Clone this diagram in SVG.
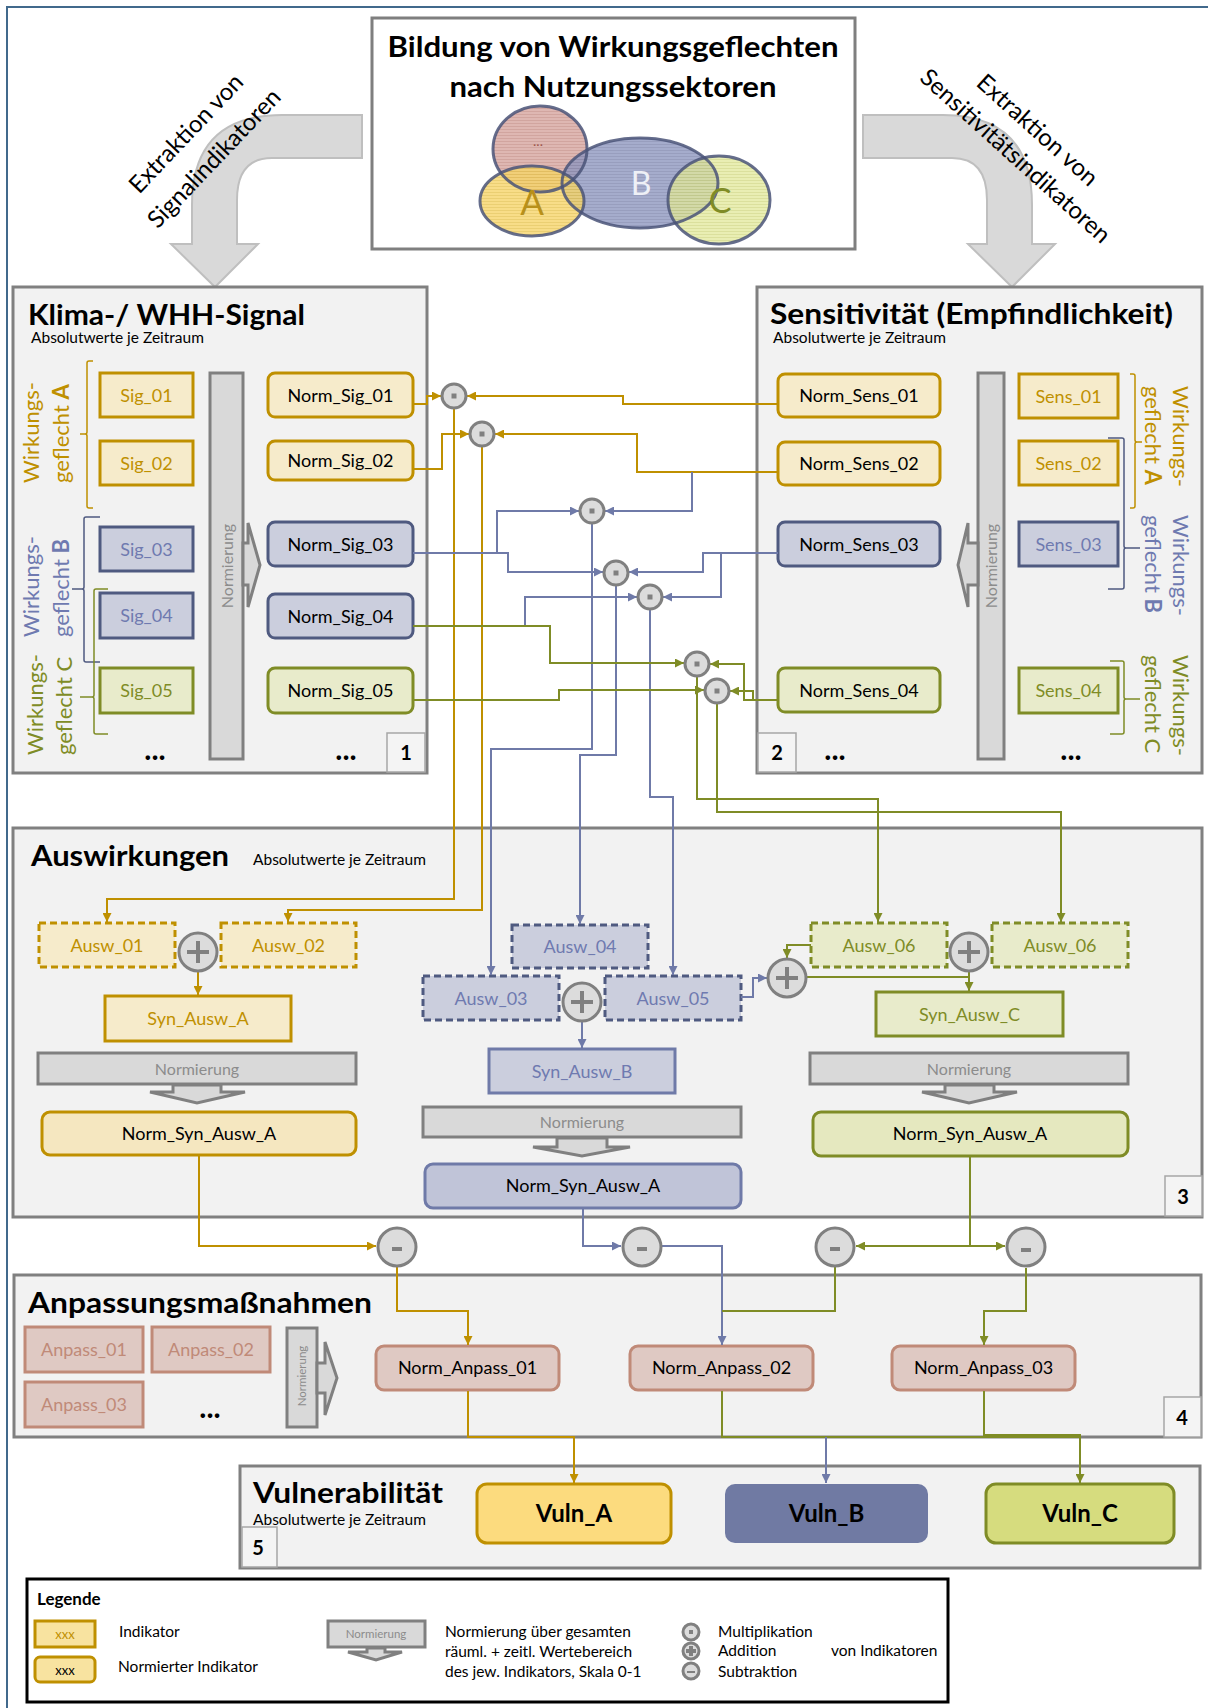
<svg xmlns="http://www.w3.org/2000/svg" width="1208" height="1708" viewBox="0 0 1208 1708">
<style>
text{font-family:Lato,"Open Sans","Liberation Sans",sans-serif}
.sec{fill:#f2f2f2;stroke:#808080;stroke-width:3}
.ttl{font-weight:bold;font-size:29px;fill:#000}
.sub{font-size:15.5px;fill:#000}
.lbl{font-size:18px;text-anchor:middle}
.gI{fill:#f6ebcb;stroke:#bf9000;stroke-width:3}
.bI{fill:#cbcedd;stroke:#4f5a80;stroke-width:3}
.oI{fill:#e8ebcb;stroke:#7f8c26;stroke-width:3}
.gT{fill:#bf9000}.bT{fill:#6f7ab0}.oT{fill:#7f8c26}.kT{fill:#000}
.dash{stroke-dasharray:7 4}
.bN{fill:#cbcedd;stroke:#4f5a80;stroke-width:3}
.nb{fill:#d9d9d9;stroke:#808080;stroke-width:3}
.nt{fill:#8c8c8c;font-size:16px;text-anchor:middle}
.num{fill:#f4f4f4;stroke:#a6a6a6;stroke-width:1.5}
.numt{font-weight:bold;font-size:20px;text-anchor:middle;fill:#000}
.dots{font-weight:bold;font-size:30px;text-anchor:middle;fill:#000}
.op{fill:#dcdcdc;stroke:#808080;stroke-width:3}
.opm{fill:#808080}
.ops{stroke:#808080;stroke-width:4;fill:none}
.cg{fill:none;stroke:#bf9000;stroke-width:2}
.cb{fill:none;stroke:#6f7aa8;stroke-width:2}
.co{fill:none;stroke:#7f8c26;stroke-width:2}
.ag{marker-end:url(#mg)}.ab{marker-end:url(#mb)}.ao{marker-end:url(#mo)}
.ap{fill:#dfc9c3;stroke:#c08a78;stroke-width:3}
.apT{fill:#c08a78}
.wk{font-size:22px}
.leg{font-size:15.5px;fill:#000}
.ext{font-size:24px;fill:#000;text-anchor:middle}
</style>
<defs>
<marker id="mg" viewBox="0 0 10 10" refX="10" refY="5" markerWidth="9" markerHeight="9" markerUnits="userSpaceOnUse" orient="auto"><path d="M0,0 L10,5 L0,10 z" fill="#bf9000"/></marker>
<marker id="mb" viewBox="0 0 10 10" refX="10" refY="5" markerWidth="9" markerHeight="9" markerUnits="userSpaceOnUse" orient="auto"><path d="M0,0 L10,5 L0,10 z" fill="#6f7aa8"/></marker>
<marker id="mo" viewBox="0 0 10 10" refX="10" refY="5" markerWidth="9" markerHeight="9" markerUnits="userSpaceOnUse" orient="auto"><path d="M0,0 L10,5 L0,10 z" fill="#7f8c26"/></marker>
<pattern id="pR" width="4" height="3" patternUnits="userSpaceOnUse"><rect width="4" height="3" fill="#d8aaa4"/><rect width="4" height="1" fill="#c9958e"/></pattern>
<pattern id="pA" width="4" height="3" patternUnits="userSpaceOnUse"><rect width="4" height="3" fill="#f6d56a"/><rect width="4" height="1" fill="#e6c350"/></pattern>
<pattern id="pB" width="4" height="3" patternUnits="userSpaceOnUse"><rect width="4" height="3" fill="#8f97bf"/><rect width="4" height="1" fill="#7e86ae"/></pattern>
<pattern id="pC" width="4" height="3" patternUnits="userSpaceOnUse"><rect width="4" height="3" fill="#e2e89a"/><rect width="4" height="1" fill="#cfd67c"/></pattern>
</defs>

<rect x="7" y="7" width="1215" height="1715" fill="#fff" stroke="#41698c" stroke-width="2"/>

<!-- top title box with venn -->
<g id="sektoren">
<rect x="372" y="18" width="483" height="231" fill="#fff" stroke="#7f7f7f" stroke-width="3"/>
<text x="613" y="57" class="ttl" text-anchor="middle" textLength="451" lengthAdjust="spacingAndGlyphs">Bildung von Wirkungsgeflechten</text>
<text x="613" y="97" class="ttl" text-anchor="middle" textLength="327" lengthAdjust="spacingAndGlyphs">nach Nutzungssektoren</text>
<ellipse cx="540" cy="149" rx="47" ry="43" fill="url(#pR)" fill-opacity="0.85"/>
<ellipse cx="640" cy="183" rx="78" ry="45" fill="url(#pB)" fill-opacity="0.8"/>
<ellipse cx="532" cy="201" rx="52" ry="35" fill="url(#pA)" fill-opacity="0.8"/>
<ellipse cx="719" cy="200" rx="51" ry="44" fill="url(#pC)" fill-opacity="0.75"/>
<g fill="none" stroke="#4a5478" stroke-width="3" stroke-opacity="0.85">
<ellipse cx="540" cy="149" rx="47" ry="43"/>
<ellipse cx="640" cy="183" rx="78" ry="45"/>
<ellipse cx="532" cy="201" rx="52" ry="35"/>
<ellipse cx="719" cy="200" rx="51" ry="44"/>
</g>
<text x="538" y="146" font-size="14" fill="#a0584e" text-anchor="middle">...</text>
<text x="532" y="215" font-size="35" fill="#b8901a" text-anchor="middle">A</text>
<text x="641" y="195" font-size="32" fill="#eef0f6" text-anchor="middle">B</text>
<text x="720" y="213" font-size="34" fill="#7f8c26" text-anchor="middle">C</text>
</g>

<!-- curved arrows -->
<g id="extraktion-signal">
<path d="M362,115 L282,115 Q192,115 192,205 L192,244 L171,244 L215,287 L258,244 L237,244 L237,200 Q237,158 272,158 L362,158 Z" fill="#d9d9d9" stroke="#bfbfbf" stroke-width="2"/>
<text class="ext" transform="translate(192,139) rotate(-46.5)">Extraktion von</text>
<text class="ext" transform="translate(220,164) rotate(-46.5)">Signalindikatoren</text>
</g>
<g id="extraktion-sens">
<path d="M863,115 L943,115 Q1032,115 1032,205 L1032,244 L1055,244 L1012,287 L968,244 L987,244 L987,200 Q987,158 952,158 L863,158 Z" fill="#d9d9d9" stroke="#bfbfbf" stroke-width="2"/>
<text class="ext" transform="translate(1032,136) rotate(42)">Extraktion von</text>
<text class="ext" transform="translate(1010,162) rotate(42)">Sensitivitätsindikatoren</text>
</g>

<!-- section 1 -->
<g id="klima">
<rect class="sec" x="13" y="287" width="414" height="486"/>
<text x="28" y="325" class="ttl" textLength="277" lengthAdjust="spacingAndGlyphs">Klima-/ WHH-Signal</text>
<text x="31" y="343" class="sub">Absolutwerte je Zeitraum</text>
<g class="wk">
<text class="gT" transform="translate(39,483) rotate(-90)">Wirkungs-</text>
<text class="gT" transform="translate(69,483) rotate(-90)">geflecht <tspan font-weight="bold">A</tspan></text>
<text class="bT" transform="translate(39,637) rotate(-90)">Wirkungs-</text>
<text class="bT" transform="translate(69,637) rotate(-90)">geflecht <tspan font-weight="bold">B</tspan></text>
<text class="oT" transform="translate(43,755) rotate(-90)">Wirkungs-</text>
<text class="oT" transform="translate(72,755) rotate(-90)">geflecht C</text>
</g>
<path d="M93,361 H89 Q87,361 87,363 V432 Q87,434 85,434 H80 M85,434 Q87,434 87,436 V506 Q87,508 89,508 H93" fill="none" stroke="#bf9000" stroke-width="1.5"/>
<path d="M100,517 H86 Q84,517 84,519 V587 Q84,589 82,589 H72 M82,589 Q84,589 84,591 V660 Q84,662 86,662 H100" fill="none" stroke="#4f5a80" stroke-width="1.5"/>
<path d="M108,589 H96 Q94,589 94,591 V695 Q94,697 92,697 H80 M92,697 Q94,697 94,699 V732 Q94,734 96,734 H108" fill="none" stroke="#7f8c26" stroke-width="1.5"/>
<g id="sig01"><rect class="gI" x="100" y="373" width="93" height="44"/><text class="lbl gT" x="146.5" y="402">Sig_01</text></g>
<g id="sig02"><rect class="gI" x="100" y="441" width="93" height="44"/><text class="lbl gT" x="146.5" y="470">Sig_02</text></g>
<g id="sig03"><rect class="bI" x="100" y="527" width="93" height="44"/><text class="lbl bT" x="146.5" y="556">Sig_03</text></g>
<g id="sig04"><rect class="bI" x="100" y="593" width="93" height="45"/><text class="lbl bT" x="146.5" y="622">Sig_04</text></g>
<g id="sig05"><rect class="oI" x="100" y="668" width="93" height="45"/><text class="lbl oT" x="146.5" y="697">Sig_05</text></g>
<g id="norm1"><rect class="nb" x="210" y="373" width="33" height="386"/>
<text class="nt" transform="translate(233,566) rotate(-90)">Normierung</text>
<path class="nb" d="M243,543 H248 V523 L260,565 L248,607 V585 H243 Z"/></g>
<g id="nsig01"><rect class="gI" x="268" y="373" width="145" height="44" rx="7"/><text class="lbl kT" x="340.5" y="402">Norm_Sig_01</text></g>
<g id="nsig02"><rect class="gI" x="268" y="441" width="145" height="39" rx="7"/><text class="lbl kT" x="340.5" y="467">Norm_Sig_02</text></g>
<g id="nsig03"><rect class="bN" x="268" y="522" width="145" height="44" rx="7"/><text class="lbl kT" x="340.5" y="551">Norm_Sig_03</text></g>
<g id="nsig04"><rect class="bN" x="268" y="594" width="145" height="44" rx="7"/><text class="lbl kT" x="340.5" y="623">Norm_Sig_04</text></g>
<g id="nsig05"><rect class="oI" x="268" y="668" width="145" height="45" rx="7"/><text class="lbl kT" x="340.5" y="697">Norm_Sig_05</text></g>
<text class="dots" x="155" y="760">...</text>
<text class="dots" x="346" y="760">...</text>
<rect class="num" x="387" y="733" width="38" height="39"/><text class="numt" x="406" y="760">1</text>
</g>

<!-- section 2 -->
<g id="sensitivitaet">
<rect class="sec" x="757" y="287" width="445" height="486"/>
<text x="770" y="324" class="ttl" textLength="403" lengthAdjust="spacingAndGlyphs">Sensitivität (Empfindlichkeit)</text>
<text x="773" y="343" class="sub">Absolutwerte je Zeitraum</text>
<g id="nsens01"><rect class="gI" x="778" y="374" width="162" height="43" rx="7"/><text class="lbl kT" x="859" y="402">Norm_Sens_01</text></g>
<g id="nsens02"><rect class="gI" x="778" y="442" width="162" height="43" rx="7"/><text class="lbl kT" x="859" y="470">Norm_Sens_02</text></g>
<g id="nsens03"><rect class="bN" x="778" y="522" width="162" height="44" rx="7"/><text class="lbl kT" x="859" y="551">Norm_Sens_03</text></g>
<g id="nsens04"><rect class="oI" x="778" y="668" width="162" height="44" rx="7"/><text class="lbl kT" x="859" y="697">Norm_Sens_04</text></g>
<g id="norm2"><rect class="nb" x="978" y="373" width="26" height="386"/>
<text class="nt" transform="translate(997,566) rotate(-90)">Normierung</text>
<path class="nb" d="M978,543 H968 V523 L958,565 L968,607 V585 H978 Z"/></g>
<g id="sens01"><rect class="gI" x="1019" y="374" width="99" height="44"/><text class="lbl gT" x="1068.5" y="403">Sens_01</text></g>
<g id="sens02"><rect class="gI" x="1019" y="441" width="99" height="44"/><text class="lbl gT" x="1068.5" y="470">Sens_02</text></g>
<g id="sens03"><rect class="bI" x="1019" y="522" width="99" height="44"/><text class="lbl bT" x="1068.5" y="551">Sens_03</text></g>
<g id="sens04"><rect class="oI" x="1019" y="668" width="99" height="45"/><text class="lbl oT" x="1068.5" y="697">Sens_04</text></g>
<path d="M1130,374 H1133 Q1135,374 1135,376 V440 Q1135,442 1137,442 H1142 M1137,442 Q1135,442 1135,444 V506 Q1135,508 1133,508 H1130" fill="none" stroke="#bf9000" stroke-width="1.5"/>
<path d="M1108,438 H1122 Q1124,438 1124,440 V546 Q1124,548 1126,548 H1140 M1126,548 Q1124,548 1124,550 V587 Q1124,589 1122,589 H1108" fill="none" stroke="#4f5a80" stroke-width="1.5"/>
<path d="M1110,661 H1122 Q1124,661 1124,663 V697 Q1124,699 1126,699 H1140 M1126,699 Q1124,699 1124,701 V732 Q1124,734 1122,734 H1110" fill="none" stroke="#7f8c26" stroke-width="1.5"/>
<g class="wk">
<text class="gT" transform="translate(1173,386) rotate(90)">Wirkungs-</text>
<text class="gT" transform="translate(1145,386) rotate(90)">geflecht <tspan font-weight="bold">A</tspan></text>
<text class="bT" transform="translate(1173,515) rotate(90)">Wirkungs-</text>
<text class="bT" transform="translate(1145,515) rotate(90)">geflecht <tspan font-weight="bold">B</tspan></text>
<text class="oT" transform="translate(1173,655) rotate(90)">Wirkungs-</text>
<text class="oT" transform="translate(1145,655) rotate(90)">geflecht C</text>
</g>
<text class="dots" x="835" y="760">...</text>
<text class="dots" x="1071" y="760">...</text>
<rect class="num" x="758" y="733" width="38" height="39"/><text class="numt" x="777" y="760">2</text>
</g>

<!-- section 3 -->
<g id="auswirkungen">
<rect class="sec" x="13" y="828" width="1189" height="389"/>
<text x="31" y="866" class="ttl" textLength="198" lengthAdjust="spacingAndGlyphs">Auswirkungen</text>
<text x="253" y="865" class="sub">Absolutwerte je Zeitraum</text>
<g id="ausw01"><rect class="gI dash" x="39" y="923" width="136" height="44"/><text class="lbl gT" x="107" y="952">Ausw_01</text></g>
<g id="ausw02"><rect class="gI dash" x="221" y="923" width="135" height="44"/><text class="lbl gT" x="288.5" y="952">Ausw_02</text></g>
<g id="synA"><rect class="gI" x="105" y="996" width="186" height="45"/><text class="lbl gT" x="198" y="1025">Syn_Ausw_A</text></g>
<g id="normA"><rect class="nb" x="38" y="1053" width="318" height="31"/><text class="nt" x="197" y="1075">Normierung</text>
<path class="nb" stroke-width="2" d="M173,1085 V1092 H150 L197,1103 L245,1092 H221 V1085 Z"/></g>
<g id="nsynA"><rect x="42" y="1112" width="314" height="43" rx="8" fill="#f5e7c0" stroke="#bf9000" stroke-width="3"/><text class="lbl kT" x="199" y="1140">Norm_Syn_Ausw_A</text></g>

<g id="ausw04"><rect class="bI dash" x="512" y="925" width="136" height="43" stroke="#6f7aa8"/><text class="lbl bT" x="580" y="953">Ausw_04</text></g>
<g id="ausw03"><rect class="bI dash" x="423" y="976" width="136" height="44" stroke="#6f7aa8"/><text class="lbl bT" x="491" y="1005">Ausw_03</text></g>
<g id="ausw05"><rect class="bI dash" x="605" y="976" width="136" height="44" stroke="#6f7aa8"/><text class="lbl bT" x="673" y="1005">Ausw_05</text></g>
<g id="synB"><rect x="489" y="1049" width="186" height="44" fill="#cbcedd" stroke="#6f7aa8" stroke-width="3"/><text class="lbl bT" x="582" y="1078">Syn_Ausw_B</text></g>
<g id="normB"><rect class="nb" x="423" y="1107" width="318" height="30"/><text class="nt" x="582" y="1128">Normierung</text>
<path class="nb" stroke-width="2" d="M557,1138 V1147 H533 L582,1156 L630,1147 H607 V1138 Z"/></g>
<g id="nsynB"><rect x="425" y="1164" width="316" height="44" rx="8" fill="#c0c4d8" stroke="#6f7aa8" stroke-width="3"/><text class="lbl kT" x="583" y="1192">Norm_Syn_Ausw_A</text></g>

<g id="ausw06a"><rect class="oI dash" x="811" y="923" width="136" height="44"/><text class="lbl oT" x="879" y="952">Ausw_06</text></g>
<g id="ausw06b"><rect class="oI dash" x="992" y="923" width="136" height="44"/><text class="lbl oT" x="1060" y="952">Ausw_06</text></g>
<g id="synC"><rect class="oI" x="876" y="992" width="187" height="44"/><text class="lbl oT" x="969.5" y="1021">Syn_Ausw_C</text></g>
<g id="normC"><rect class="nb" x="810" y="1053" width="318" height="31"/><text class="nt" x="969" y="1075">Normierung</text>
<path class="nb" stroke-width="2" d="M945,1085 V1092 H922 L969,1103 L1017,1092 H994 V1085 Z"/></g>
<g id="nsynC"><rect x="813" y="1112" width="315" height="44" rx="8" fill="#e5e8bf" stroke="#7f8c26" stroke-width="3"/><text class="lbl kT" x="970" y="1140">Norm_Syn_Ausw_A</text></g>
<rect class="num" x="1165" y="1176" width="37" height="40"/><text class="numt" x="1183" y="1204">3</text>
</g>

<!-- section 4 -->
<g id="anpassung">
<rect class="sec" x="14" y="1275" width="1187" height="162"/>
<text x="28" y="1313" class="ttl" textLength="344" lengthAdjust="spacingAndGlyphs">Anpassungsmaßnahmen</text>
<g id="anp01"><rect class="ap" x="25" y="1327" width="118" height="45"/><text class="lbl apT" x="84" y="1356">Anpass_01</text></g>
<g id="anp02"><rect class="ap" x="152" y="1327" width="118" height="45"/><text class="lbl apT" x="211" y="1356">Anpass_02</text></g>
<g id="anp03"><rect class="ap" x="25" y="1382" width="118" height="45"/><text class="lbl apT" x="84" y="1411">Anpass_03</text></g>
<text class="dots" x="210" y="1418">...</text>
<g id="norm4"><rect class="nb" x="287" y="1328" width="30" height="99"/>
<text class="nt" transform="translate(306,1376) rotate(-90)" style="font-size:11.5px">Normierung</text>
<path class="nb" d="M317,1363 H325 V1342 L337,1378 L325,1415 V1393 H317 Z"/></g>
<g id="nanp01"><rect class="ap" x="376" y="1346" width="183" height="44" rx="8"/><text class="lbl kT" x="467.5" y="1374">Norm_Anpass_01</text></g>
<g id="nanp02"><rect class="ap" x="630" y="1346" width="183" height="44" rx="8"/><text class="lbl kT" x="721.5" y="1374">Norm_Anpass_02</text></g>
<g id="nanp03"><rect class="ap" x="892" y="1346" width="183" height="44" rx="8"/><text class="lbl kT" x="983.5" y="1374">Norm_Anpass_03</text></g>
<rect class="num" x="1164" y="1397" width="37" height="40"/><text class="numt" x="1182" y="1425">4</text>
</g>

<!-- section 5 -->
<g id="vulnerabilitaet">
<rect class="sec" x="240" y="1466" width="960" height="102"/>
<text x="253" y="1503" class="ttl" textLength="190" lengthAdjust="spacingAndGlyphs">Vulnerabilität</text>
<text x="253" y="1525" class="sub">Absolutwerte je Zeitraum</text>
<rect class="num" x="242" y="1527" width="35" height="40"/><text class="numt" x="258" y="1555">5</text>
<g id="vulnA"><rect x="477" y="1484" width="194" height="59" rx="10" fill="#fcdb7e" stroke="#bf9000" stroke-width="3"/><text x="574" y="1522" font-size="24" font-weight="bold" text-anchor="middle" fill="#000">Vuln_A</text></g>
<g id="vulnB"><rect x="725" y="1484" width="203" height="59" rx="10" fill="#707aa3"/><text x="826.5" y="1522" font-size="24" font-weight="bold" text-anchor="middle" fill="#000">Vuln_B</text></g>
<g id="vulnC"><rect x="986" y="1484" width="188" height="59" rx="10" fill="#d6dc7e" stroke="#7f8c26" stroke-width="3"/><text x="1080" y="1522" font-size="24" font-weight="bold" text-anchor="middle" fill="#000">Vuln_C</text></g>
</g>

<!-- connectors -->
<g id="connectors">
<path class="cg ag" d="M413,404 H427 V396 H441"/>
<path class="cg ag" d="M778,404 H623 V396 H467"/>
<path class="cg ag" d="M413,469 H442 V434 H469"/>
<path class="cg ag" d="M778,472 H637 V434 H495"/>
<path class="cg ag" d="M454,409 V899 H107 V922"/>
<path class="cg ag" d="M482,447 V910 H288 V922"/>

<path class="cb ab" d="M692,472 V511 H605"/>
<path class="cb ab" d="M413,553 H497 V511 H579"/>
<path class="cb ab" d="M497,553 H508 V572 H603"/>
<path class="cb ab" d="M778,553 H703 V572 H629"/>
<path class="cb ab" d="M721,553 V597 H663"/>
<path class="cb ab" d="M525,626 V597 H637"/>
<path class="cb ab" d="M592,524 V749 H491 V975"/>
<path class="cb ab" d="M616,586 V755 H580 V924"/>
<path class="cb ab" d="M650,610 V797 H673 V975"/>

<path class="co ao" d="M413,626 H550 V663 H684"/>
<path class="co ao" d="M413,700 H559 V690 H704"/>
<path class="co ao" d="M778,700 H744 V664 H710"/>
<path class="co ao" d="M753,700 V691 H730"/>
<path class="co ao" d="M697,677 V799 H878 V922"/>
<path class="co ao" d="M717,704 V812 H1061 V922"/>

<path class="cg ag" d="M198,971 V995"/>
<path class="cb ab" d="M582,1021 V1048"/>
<path class="cb ab" d="M741,997 H753 V978 H767"/>
<path class="co ao" d="M811,945 H787 V958"/>
<path class="co" d="M807,977 H969"/>
<path class="co ao" d="M969,971 V991"/>

<path class="cg ag" d="M199,1156 V1246 H376"/>
<path class="cb ab" d="M583,1209 V1246 H621"/>
<path class="co ao" d="M970,1157 V1246 H856"/>
<path class="co ao" d="M970,1246 H1005"/>
<path class="cg ag" d="M397,1267 V1311 H468 V1345"/>
<path class="cb ab" d="M662,1246 H722 V1345"/>
<path class="co" d="M835,1267 V1311 H722"/>
<path class="co ao" d="M1026,1268 V1311 H984 V1345"/>
<path class="cg ag" d="M468,1391 V1437 H574 V1483"/>
<path class="co" d="M722,1391 V1437 H1080"/>
<path class="cb ab" d="M826,1437 V1483"/>
<path class="co ao" stroke-width="2.5" d="M984,1391 V1435 H1080 V1483"/>
</g>

<!-- operators -->
<g id="operators">
<g id="m1"><circle class="op" cx="454" cy="396" r="12"/><rect class="opm" x="451.5" y="393.5" width="5" height="5"/></g>
<g id="m2"><circle class="op" cx="482" cy="434" r="12"/><rect class="opm" x="479.5" y="431.5" width="5" height="5"/></g>
<g id="m3"><circle class="op" cx="592" cy="511" r="12"/><rect class="opm" x="589.5" y="508.5" width="5" height="5"/></g>
<g id="m4"><circle class="op" cx="616" cy="573" r="12"/><rect class="opm" x="613.5" y="570.5" width="5" height="5"/></g>
<g id="m5"><circle class="op" cx="650" cy="597" r="12"/><rect class="opm" x="647.5" y="594.5" width="5" height="5"/></g>
<g id="m6"><circle class="op" cx="697" cy="664" r="12"/><rect class="opm" x="694.5" y="661.5" width="5" height="5"/></g>
<g id="m7"><circle class="op" cx="717" cy="691" r="12"/><rect class="opm" x="714.5" y="688.5" width="5" height="5"/></g>
<g id="pA"><circle class="op" cx="198" cy="952" r="19"/><path class="ops" d="M187,952 H209 M198,941 V963"/></g>
<g id="pB"><circle class="op" cx="582" cy="1002" r="19"/><path class="ops" d="M571,1002 H593 M582,991 V1013"/></g>
<g id="pC2"><circle class="op" cx="787" cy="978" r="19"/><path class="ops" d="M776,978 H798 M787,967 V989"/></g>
<g id="pC"><circle class="op" cx="969" cy="952" r="19"/><path class="ops" d="M958,952 H980 M969,941 V963"/></g>
<g id="s1"><circle class="op" cx="397" cy="1247" r="19"/><rect class="opm" x="392" y="1247" width="10" height="4"/></g>
<g id="s2"><circle class="op" cx="642" cy="1247" r="19"/><rect class="opm" x="637" y="1247" width="10" height="4"/></g>
<g id="s3"><circle class="op" cx="835" cy="1247" r="19"/><rect class="opm" x="830" y="1247" width="10" height="4"/></g>
<g id="s4"><circle class="op" cx="1026" cy="1247" r="19"/><rect class="opm" x="1021" y="1248" width="10" height="4"/></g>
</g>

<!-- legend -->
<g id="legende">
<rect x="27" y="1579" width="921" height="123" fill="#fff" stroke="#000" stroke-width="3"/>
<text x="37" y="1605" font-size="17" font-weight="bold" fill="#000">Legende</text>
<rect x="35" y="1621" width="60" height="26" fill="#f8e3a0" stroke="#bf9000" stroke-width="3"/>
<text x="65" y="1639" font-size="13" text-anchor="middle" fill="#bf9000">xxx</text>
<rect x="35" y="1657" width="60" height="25" rx="5" fill="#f8e3a0" stroke="#bf9000" stroke-width="3"/>
<text x="65" y="1675" font-size="13" text-anchor="middle" fill="#000">xxx</text>
<text x="119" y="1637" class="leg">Indikator</text>
<text x="118" y="1672" class="leg">Normierter Indikator</text>
<rect class="nb" x="328" y="1621" width="97" height="26" stroke-width="2.5"/>
<text x="376" y="1638" font-size="11.5" text-anchor="middle" fill="#8c8c8c">Normierung</text>
<path class="nb" stroke-width="2" d="M367,1648 V1652 H348 L376,1660 L402,1652 H385 V1648 Z"/>
<text x="445" y="1637" class="leg">Normierung über gesamten</text>
<text x="445" y="1657" class="leg">räuml. + zeitl. Wertebereich</text>
<text x="445" y="1677" class="leg">des jew. Indikators, Skala 0-1</text>
<circle class="op" cx="691" cy="1632" r="8" stroke-width="2"/><rect class="opm" x="689" y="1630" width="4" height="4"/>
<circle class="op" cx="691" cy="1651" r="8" stroke-width="2"/><path class="ops" stroke-width="2" d="M686,1651 H696 M691,1646 V1656"/>
<circle class="op" cx="691" cy="1671" r="8" stroke-width="2"/><rect class="opm" x="687" y="1671" width="8" height="2"/>
<text x="718" y="1637" class="leg">Multiplikation</text>
<text x="718" y="1656" class="leg">Addition</text>
<text x="718" y="1677" class="leg">Subtraktion</text>
<text x="831" y="1656" class="leg">von Indikatoren</text>
</g>
</svg>
